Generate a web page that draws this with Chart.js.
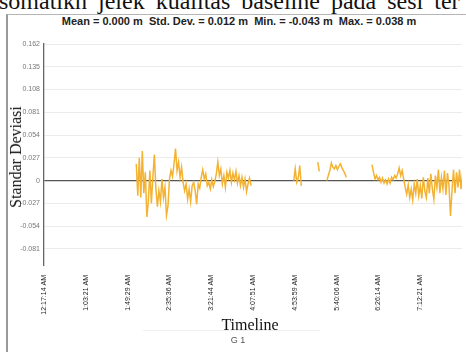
<!DOCTYPE html>
<html>
<head>
<meta charset="utf-8">
<script src="https://cdn.jsdelivr.net/npm/chart.js@4.4.1/dist/chart.umd.min.js"></script>
<style>
  body { margin: 0; width: 466px; height: 352px; overflow: hidden; background: #fff; position: relative; }
  #doc { position: absolute; left: -1px; top: -11px; font: 24px "Liberation Serif", serif; color: #111; white-space: nowrap; line-height: 24px; word-spacing: 5px; }
  #frame { position: absolute; left: 6px; top: 14px; width: 480px; height: 360px; border-left: 2px solid #9a9a9a; border-top: 1px solid #b5b5b5; }
  #title { position: absolute; left: 0; width: 478px; top: 15px; text-align: center; font: bold 11px "Liberation Sans", Arial, sans-serif; color: #222; }
  #wrap { position: absolute; left: 0; top: 0; width: 466px; height: 352px; }
  #ytitle { position: absolute; left: 16px; top: 157px; transform: translate(-50%, -50%) rotate(-90deg); font: 16px "Liberation Serif", serif; color: #111; white-space: nowrap; }
  #xtitle { position: absolute; left: 250px; top: 325px; transform: translate(-50%, -50%); font: 16px "Liberation Serif", serif; color: #111; }
  #legline { position: absolute; left: 143px; width: 177px; top: 330px; border-top: 1px solid #f0f0f0; }
  #legend { position: absolute; left: 238px; top: 340px; transform: translate(-50%, -50%); font: 9px "Liberation Sans", Arial, sans-serif; color: #555; }
</style>
</head>
<body>
<div id="doc">somatikh jelek kualitas baseline pada sesi ter</div>
<div id="frame"></div>
<div id="title">Mean = 0.000 m&nbsp; Std. Dev. = 0.012 m&nbsp; Min. = -0.043 m&nbsp; Max. = 0.038 m</div>
<div id="wrap"><canvas id="chart_stdDev" width="466" height="352"></canvas></div>
<div id="ytitle">Standar Deviasi</div>
<div id="xtitle">Timeline</div>
<div id="legline"></div>
<div id="legend">G 1</div>
<script>
// time axis (seconds after midnight) and its labels
const xTickSeconds = [1034, 3801, 6569, 9336, 12104, 14871, 17639, 20406, 23174, 25941];
const xTickLabels = ['12:17:14 AM', '1:03:21 AM', '1:49:29 AM', '2:35:36 AM', '3:21:44 AM',
                     '4:07:51 AM', '4:53:59 AM', '5:40:06 AM', '6:26:14 AM', '7:12:21 AM'];
const yTickValues = [0.162, 0.135, 0.108, 0.081, 0.054, 0.027, 0, -0.027, -0.054, -0.081];
const yTickLabels = ['0.162', '0.135', '0.108', '0.081', '0.054', '0.027', '0', '-0.027', '-0.054', '-0.081'];

const sampleStep = 100; // seconds between samples

// recorded pieces of the G1 series: start time + values (m)
const seg1Start = 7143;
const seg1 = [0.020, -0.018, 0.027, -0.020, 0.035, -0.015, 0.010, -0.043, -0.025, 0.012,
              -0.027, 0.005, 0.031, -0.010, -0.031, -0.012, -0.025, 0.002, -0.020, -0.008,
              -0.041, -0.030, 0.002, 0.012, 0.005, 0.020, 0.038, 0.012, 0.022, 0.004,
              0.016, -0.002, -0.012, -0.004, -0.022, -0.010, -0.025, -0.006, -0.002, -0.012,
              -0.028, -0.004, -0.009, 0.004, 0.013, 0.002, 0.008, -0.006, -0.002, -0.010,
              0.001, -0.007, -0.001, 0.008, 0.022, 0.006, 0.014, -0.004, 0.006, -0.008,
              0.010, 0.003, 0.012, -0.002, 0.009, 0.001, 0.011, -0.003, 0.006, -0.006,
              0.004, -0.008, 0.002, -0.013, -0.004, 0.003, -0.006];
const seg2Start = 17568;
const seg2 = [0.000, 0.014, -0.002, 0.003, 0.018, -0.006];
const seg3Start = 19161;
const seg3 = [0.022, 0.011];
const seg4Start = 19759;
const seg4 = [0.000, 0.006, 0.012, 0.021, 0.016, 0.014, 0.018, 0.013, 0.017, 0.020,
              0.015, 0.012, 0.008, 0.004];
const seg5Start = 22747;
const seg5 = [0.019, 0.010, 0.002, 0.006, 0.001, 0.004, -0.002, 0.003, -0.003, 0.001,
              -0.004, 0.002, -0.003, 0.004, 0.001, 0.006, 0.003, 0.008, 0.015, 0.006,
              0.012, 0.002, -0.008, -0.016, -0.005, -0.020, -0.010, -0.023, -0.004, -0.015,
              0.002, -0.018, -0.006, -0.021, 0.004, -0.012, -0.020, 0.003, -0.015, 0.008,
              -0.010, -0.022, 0.006, -0.008, 0.013, -0.015, 0.004, -0.010, 0.012, -0.017,
              0.009, -0.006, -0.042, -0.012, 0.013, -0.015, 0.010, -0.008, 0.013, -0.010,
              0.008];

const segments = [[seg1Start, seg1], [seg2Start, seg2], [seg3Start, seg3], [seg4Start, seg4], [seg5Start, seg5]];
const points = [];
segments.forEach(([start, vals], s) => {
    if (s > 0) points.push({ x: start - 50, y: null });
    vals.forEach((v, i) => points.push({ x: start + i * sampleStep, y: v }));
});

new Chart(
    document.getElementById('chart_stdDev'),
    {
        type: 'line',
        data: {
            datasets: [
                {
                    label: 'G 1',
                    data: points,
                    borderColor: '#f4b232',
                    borderWidth: 1.5,
                    pointRadius: 0,
                    spanGaps: false,
                    tension: 0
                }
            ]
        },
        options: {
            responsive: false,
            animation: false,
            layout: { padding: { top: 44, right: 4, left: 0, bottom: 0 } },
            plugins: { legend: { display: false }, tooltip: { enabled: false } },
            scales: {
                x: {
                    type: 'linear',
                    min: 1034,
                    max: 28709,
                    afterBuildTicks: scale => { scale.ticks = xTickSeconds.map(v => ({ value: v })); },
                    afterFit: scale => { scale.height = 87; },
                    ticks: {
                        autoSkip: false,
                        minRotation: 90,
                        maxRotation: 90,
                        padding: 2,
                        color: '#222',
                        font: { size: 7, family: 'Liberation Sans' },
                        callback: (v, i) => xTickLabels[i]
                    },
                    grid: { display: false },
                    border: { display: false }
                },
                y: {
                    min: -0.1,
                    max: 0.162,
                    afterBuildTicks: scale => { scale.ticks = yTickValues.map(v => ({ value: v })); },
                    afterFit: scale => { scale.width = 44; },
                    ticks: {
                        padding: 4,
                        color: '#777',
                        font: { size: 7, family: 'Liberation Sans' },
                        callback: (v, i) => yTickLabels[i]
                    },
                    grid: {
                        drawTicks: false,
                        color: ctx => (ctx.tick && ctx.tick.value === 0) ? '#555' : '#ebebeb',
                        lineWidth: ctx => (ctx.tick && ctx.tick.value === 0) ? 1.3 : 1
                    },
                    border: { display: true, color: '#666', width: 1.3 }
                }
            }
        }
    }
);
</script>
</body>
</html>
